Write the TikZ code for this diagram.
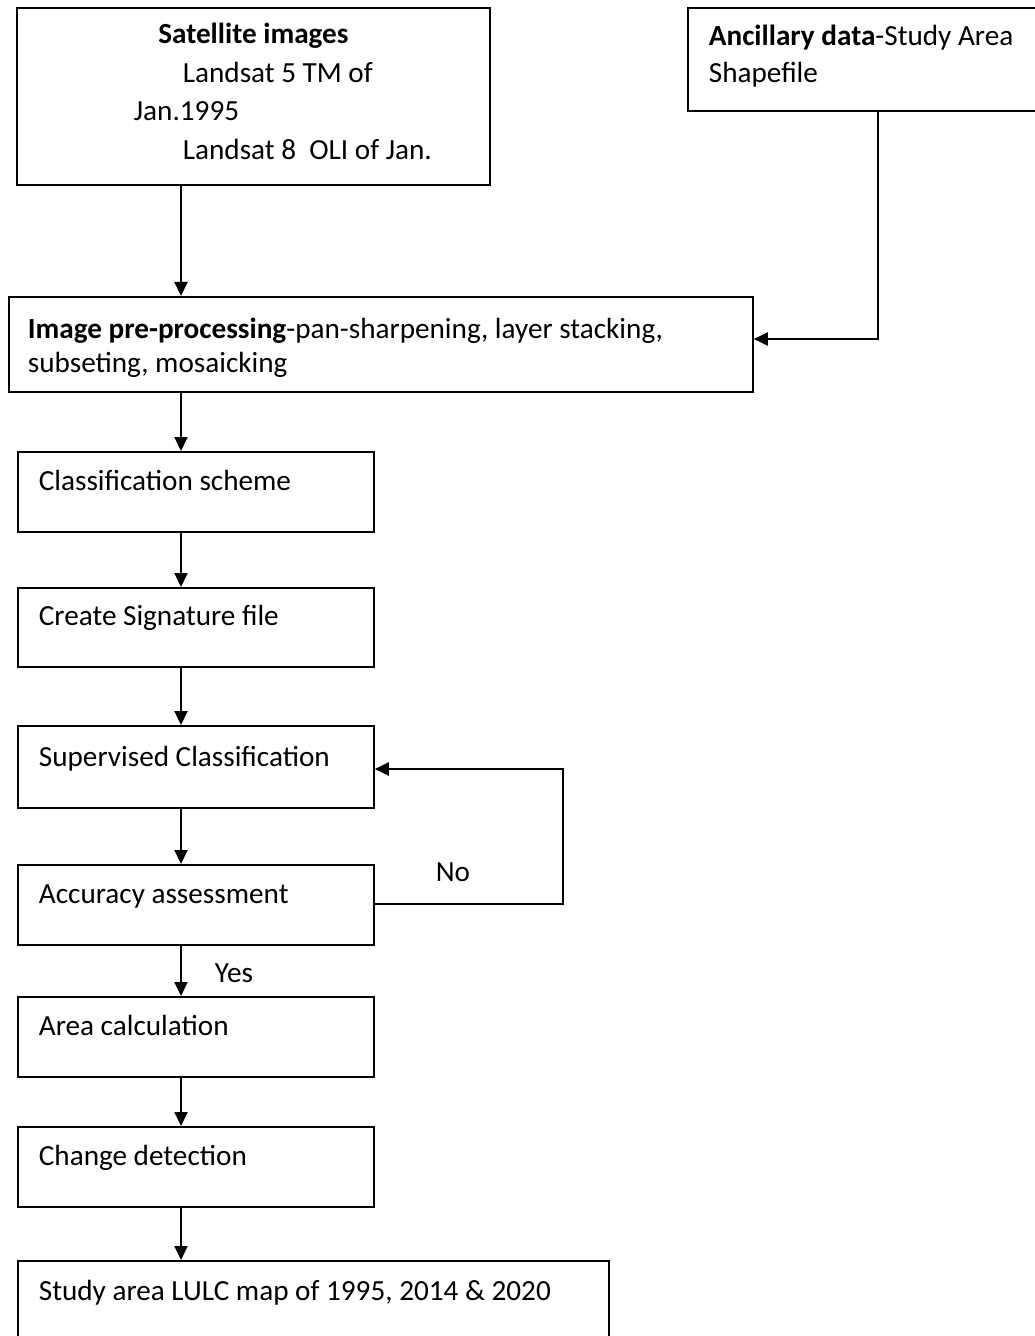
\documentclass[tikz,border=0pt]{standalone}
\usepackage{fontspec}
\setmainfont{Carlito}
\usetikzlibrary{arrows.meta}
\tikzset{flow box/.style n args={3}{draw,rectangle,anchor=north west,line width=0.9pt,
                          inner xsep=10.5pt,inner ysep=0pt,align=flush left,
                          text width=#1,text height=#2,text depth=#3,
                          font=\fontsize{14.6}{18}\selectfont}}

\begin{document}
\begin{tikzpicture}[x=0.5pt,y=-0.5pt,line width=1pt,
                    >={Triangle[length=7pt,width=6.5pt]}]
\useasboundingbox (0,0) rectangle (1034,1336);
\fill[white] (0,0) rectangle (1034,1336);

% input boxes
\node[flow box={216.5pt}{18pt}{70.5pt},inner xsep=10pt,
      font=\fontsize{14.6}{19.2}\selectfont] (sat) at (16,7)
     {\makebox[216.5pt][c]{\bfseries Satellite images}\\
      \hspace*{73pt}Landsat 5 TM of\\
      \hspace*{48.5pt}Jan.1995\\
      \hspace*{73pt}Landsat 8\ \ OLI of Jan.};
\node[flow box={170pt}{19pt}{32.5pt},font=\fontsize{14.6}{18.5}\selectfont] (ancillary) at (687,7)
     {\mbox{\textbf{Ancillary data}-Study Area}\\Shapefile};

% processing chain
\node[flow box={353pt}{21pt}{26.5pt},inner xsep=9.5pt,font=\fontsize{14.6}{17}\selectfont] (prep) at (8,296)
     {\mbox{\textbf{Image pre-processing}-pan-sharpening, layer stacking,}\\subseting, mosaicking};
\node[flow box={157pt}{19.5pt}{20.5pt}] (scheme) at (17,451) {Classification scheme};
\node[flow box={157pt}{19pt}{20.5pt}] (signature) at (17,587) {Create Signature file};
\node[flow box={157pt}{20.5pt}{20.5pt}] (supervised) at (17,725) {Supervised Classification};
\node[flow box={157pt}{19.5pt}{20.5pt}] (accuracy) at (17,864) {Accuracy assessment};
\node[flow box={157pt}{19.5pt}{20.5pt}] (area) at (17,996) {Area calculation};
\node[flow box={157pt}{19.5pt}{20.5pt}] (change) at (17,1126) {Change detection};
\node[flow box={274.5pt}{20pt}{22.5pt}] (lulc) at (17,1260)
     {\mbox{Study area LULC map of 1995, 2014 \& 2020}};

% connectors
\coordinate (spine) at (181,0);
\foreach \from/\to in {sat/prep,prep/scheme,scheme/signature,signature/supervised,
                       supervised/accuracy,accuracy/area,area/change,change/lulc}
   \draw[->] (\from.south -| spine) -- (\to.north -| spine);

\coordinate (feed) at (878,339);
\draw[->] (ancillary.south -| feed) -- (feed) -- (prep.east |- feed);

\coordinate (noback) at (563,904);
\coordinate (noturn) at (563,769);
\draw[->] (accuracy.east |- noback) -- (noback) -- (noturn) -- (supervised.east |- noturn);

\node[font=\fontsize{14.6}{18}\selectfont] (nolabel) at (453,872) {No};
\node[font=\fontsize{14.6}{18}\selectfont] (yeslabel) at (234,973) {Yes};

\end{tikzpicture}
\end{document}
